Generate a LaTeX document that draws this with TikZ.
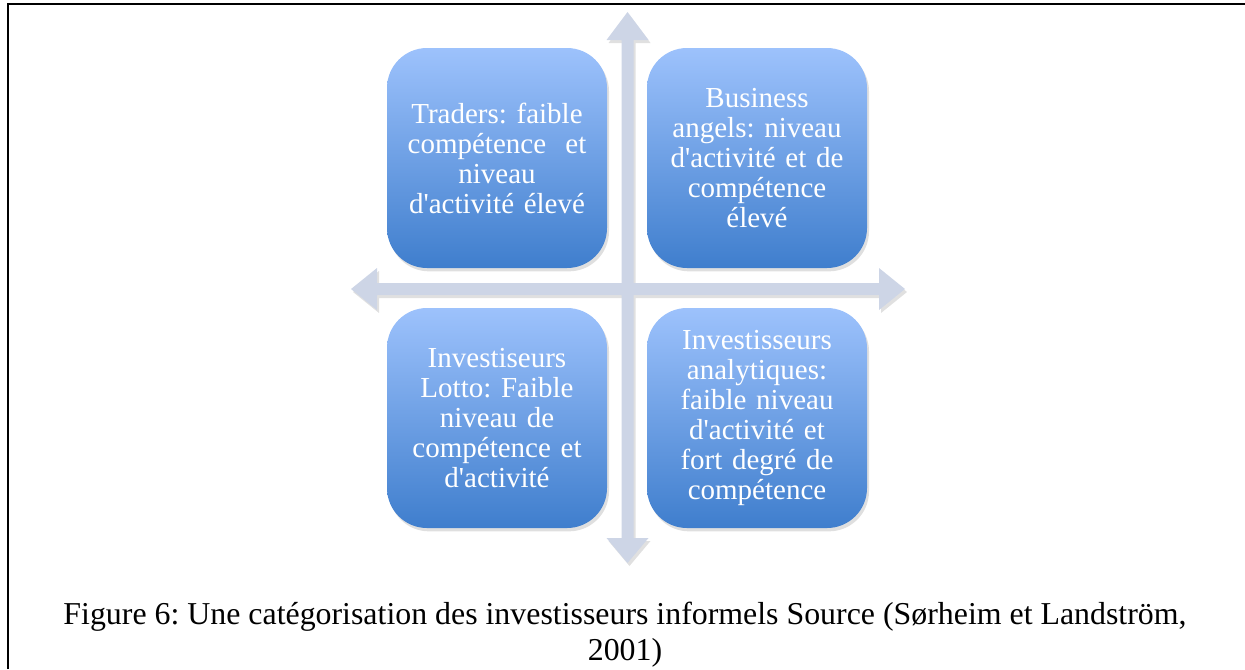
\documentclass[tikz,border=0pt]{standalone}
\usepackage{fontspec}
\setmainfont{Liberation Serif}
\usetikzlibrary{shadows}
\definecolor{boxtop}{RGB}{157,194,252}
\definecolor{boxbot}{RGB}{63,126,205}
\definecolor{axiscol}{RGB}{205,213,230}
\newcommand{\apo}{\textquotesingle}
\frenchspacing
\begin{document}
\begin{tikzpicture}[x=0.75pt,y=-0.75pt,
  quad/.style={rounded corners=30pt, minimum width=165pt, minimum height=165pt,
    inner sep=0pt, text width=150pt, align=center, top color=boxtop, bottom color=boxbot,
    text=white, font=\fontsize{21.75}{22.5}\selectfont,
    drop shadow={opacity=0.25, shadow xshift=1.5pt, shadow yshift=-2.5pt}},
  axisshape/.style={fill=axiscol},
  axisshadow/.style={fill=black, opacity=0.12},
  captionstyle/.style={font=\fontsize{23.9}{27}\selectfont, align=center, inner sep=0pt}]
\useasboundingbox (0,0) rectangle (1245,669);
% frame
\draw[line width=1.5pt] (8,669) -- (8,4) -- (1245,4);
% axes (shadow + cross)
\def\crosspath{(627.5,12) -- (648.5,40) -- (633.5,40) -- (633.5,283) -- (879,283) -- (879,268) -- (905,289) -- (879,310) -- (879,295) -- (633.5,295) -- (633.5,538) -- (648.5,538) -- (627.5,563) -- (606.5,538) -- (621.5,538) -- (621.5,295) -- (377,295) -- (377,310) -- (351,289) -- (377,268) -- (377,283) -- (621.5,283) -- (621.5,40) -- (606.5,40) -- cycle}
\fill[axisshadow, shift={(2,3)}] \crosspath;
\fill[axisshape] \crosspath;
% quadrants
\node[quad] (tl) at (497,158) {Traders: faible\\compétence\ \ et\\niveau\\d\apo activité élevé};
\node[quad] (tr) at (757,158) {Business\\angels: niveau\\d\apo activité et de\\compétence\\élevé};
\node[quad] (bl) at (497,418) {Investiseurs\\Lotto: Faible\\niveau de\\compétence et\\d\apo activité};
\node[quad] (br) at (757,418) {Investisseurs\\analytiques:\\faible niveau\\d\apo activité et\\fort degré de\\compétence};
% caption
\node[captionstyle, anchor=base] (cap1) at (625,624) {Figure 6: Une catégorisation des investisseurs informels Source (Sørheim et Landström,};
\node[captionstyle, anchor=base] (cap2) at (625,660) {2001)};
\end{tikzpicture}
\end{document}
